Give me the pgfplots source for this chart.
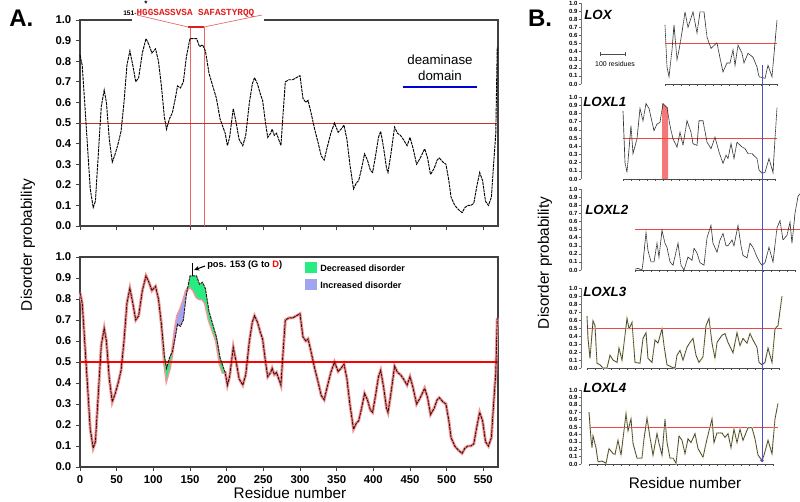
\documentclass[border=0pt]{standalone}
\usepackage{fontspec}
\setmainfont{Liberation Sans}
\newfontfamily\seqfont{Liberation Mono}
\usepackage{pgfplots}
\pgfplotsset{compat=1.18}
\usepackage{pgfplotstable}
\usetikzlibrary{arrows.meta}

\definecolor{seqred}{RGB}{225,30,30}
\definecolor{halfline}{RGB}{190,50,50}
\definecolor{vline}{RGB}{235,100,100}
\definecolor{mutpink}{RGB}{245,150,150}
\definecolor{wtdark}{RGB}{60,15,15}
\definecolor{decgreen}{RGB}{40,235,130}
\definecolor{incblue}{RGB}{160,165,240}
\definecolor{bred}{RGB}{240,70,70}
\definecolor{bblue}{RGB}{80,80,200}
\definecolor{bshade}{RGB}{245,120,120}
\definecolor{olivey}{RGB}{232,228,180}

% disorder profile, panel A (wt = wild type, mut = G153D)
\pgfplotstableread{
res wt mut
0 0.83 0.83
3 0.78 0.78
6 0.62 0.62
10 0.40 0.40
14 0.18 0.18
18 0.09 0.09
21 0.12 0.12
25 0.35 0.35
29 0.58 0.58
33 0.66 0.66
36 0.60 0.60
40 0.42 0.42
44 0.31 0.31
48 0.35 0.35
52 0.40 0.40
56 0.46 0.46
60 0.60 0.60
64 0.78 0.78
68 0.85 0.85
72 0.78 0.78
76 0.70 0.70
80 0.72 0.72
85 0.84 0.84
90 0.91 0.91
94 0.88 0.88
98 0.84 0.84
103 0.86 0.86
107 0.80 0.80
111 0.68 0.68
115 0.53 0.50
118 0.47 0.42
122 0.52 0.47
126 0.55 0.55
130 0.62 0.66
133 0.68 0.72
137 0.67 0.75
141 0.70 0.79
145 0.82 0.84
150 0.91 0.86
155 0.91 0.84
159 0.91 0.81
163 0.87 0.80
167 0.88 0.80
171 0.85 0.78
176 0.74 0.70
181 0.68 0.65
186 0.62 0.60
191 0.52 0.49
195 0.48 0.45
198 0.45 0.45
201 0.39 0.39
204 0.43 0.43
209 0.57 0.57
213 0.50 0.50
217 0.42 0.42
222 0.39 0.39
226 0.44 0.44
231 0.60 0.60
235 0.69 0.69
238 0.72 0.72
242 0.69 0.69
246 0.64 0.64
249 0.61 0.61
253 0.50 0.50
256 0.43 0.43
260 0.45 0.45
262 0.47 0.47
265 0.44 0.44
268 0.45 0.45
271 0.42 0.42
274 0.39 0.39
277 0.55 0.55
280 0.70 0.70
285 0.71 0.71
290 0.71 0.71
295 0.72 0.72
300 0.73 0.73
304 0.62 0.62
308 0.60 0.60
311 0.61 0.61
315 0.55 0.55
320 0.47 0.47
325 0.40 0.40
329 0.34 0.34
333 0.32 0.32
337 0.38 0.38
342 0.45 0.45
347 0.50 0.50
352 0.455 0.455
356 0.47 0.47
360 0.49 0.49
364 0.42 0.42
368 0.30 0.30
373 0.18 0.18
377 0.21 0.21
380 0.22 0.22
384 0.28 0.28
388 0.35 0.35
392 0.32 0.32
396 0.27 0.27
399 0.26 0.26
403 0.34 0.34
407 0.43 0.43
410 0.46 0.46
414 0.38 0.38
418 0.28 0.28
420 0.26 0.26
424 0.35 0.35
429 0.48 0.48
433 0.45 0.45
437 0.44 0.44
441 0.42 0.42
446 0.39 0.39
450 0.43 0.43
454 0.38 0.38
459 0.30 0.30
464 0.33 0.33
470 0.375 0.375
474 0.33 0.33
478 0.25 0.25
483 0.28 0.28
487 0.32 0.32
490 0.33 0.33
495 0.31 0.31
499 0.30 0.30
503 0.22 0.22
506 0.14 0.14
511 0.10 0.10
516 0.08 0.08
521 0.065 0.065
525 0.09 0.09
529 0.10 0.10
533 0.10 0.10
537 0.11 0.11
541 0.19 0.19
545 0.26 0.26
549 0.22 0.22
553 0.12 0.12
557 0.10 0.10
561 0.14 0.14
564 0.30 0.30
567 0.45 0.45
}\profA

\pgfplotsset{
  ticksA/.style={
    scale only axis, width=313.5pt, xmin=0, xmax=570, ymin=0, ymax=1,
    axis line style={black!75, line width=0.8pt},
    tick align=outside, tick pos=left, major tick length=3pt,
    tick style={black!75, line width=0.6pt},
    xtick={0,50,...,550},
    ytick={0,0.1,0.2,0.3,0.4,0.5,0.6,0.7,0.8,0.9,1.0},
    ticklabel style={font=\fontsize{8.5}{10}\selectfont\bfseries},
    /pgf/number format/assume math mode=true,
    yticklabel style={/pgf/number format/fixed, /pgf/number format/fixed zerofill, /pgf/number format/precision=1},
    clip=false,
  },
  wtline/.style={black, line width=0.7pt, dash pattern=on 2.2pt off 0.6pt},
  panelB/.style={
    scale only axis, width=164.25pt, xmin=0, xmax=876, ymin=0, ymax=1,
    axis x line=none, axis y line*=left,
    axis line style={black!55, line width=0.4pt},
    tick align=outside, major tick length=1.5pt, tick style={black!60},
    ytick={0,0.1,0.2,0.3,0.4,0.5,0.6,0.7,0.8,0.9,1.0},
    yticklabel style={font=\fontsize{4.5}{5}\selectfont\bfseries, inner sep=1pt,
      /pgf/number format/fixed, /pgf/number format/fixed zerofill, /pgf/number format/precision=1},
    /pgf/number format/assume math mode=true,
    clip=false,
  },
  bcurve/.style={black!80, line width=0.5pt, dash pattern=on 1.2pt off 0.3pt},
}

\newcommand{\bline}[3]{%
  \addplot[black!70, line width=0.4pt] coordinates {(#1,0)(#3,0)};
  \pgfplotsinvokeforeach{#1,#2,...,#3}{\draw[black!70, line width=0.4pt] (axis cs:##1,0) -- ++(0,-1.6pt);}
}

\begin{document}
\begin{tikzpicture}
\useasboundingbox (0,0) rectangle (600pt,-375.75pt);

% ---------------- Panel A, top ----------------
\begin{axis}[ticksA, at={(60pt,-169.5pt)}, anchor=south west, height=154.5pt, xticklabels={}]
\draw[vline, line width=0.6pt] (axis cs:151,0) -- (axis cs:151,0.966);
\draw[vline, line width=0.6pt] (axis cs:170,0) -- (axis cs:170,0.966);
\addplot[halfline, line width=0.7pt] coordinates {(0,0.5)(570,0.5)};
\addplot[wtline] table[x=res, y=wt] {\profA};
\addplot[wtline] coordinates {(567,0.45)(569,0.87)};
\addplot[blue!85!black, line width=1.1pt] coordinates {(440,0.675)(542,0.675)};
\end{axis}
% gap in the frame for the sequence
\fill[white] (99pt,-13.3pt) rectangle (198pt,-16.7pt);
\draw[vline, line width=0.5pt] (141pt,-20.25pt) -- (102.75pt,-11.25pt);
\draw[vline, line width=0.5pt] (153pt,-20.25pt) -- (196.5pt,-11.25pt);
\draw[seqred, line width=2.2pt] (141pt,-20.25pt) -- (153pt,-20.25pt);
\node[anchor=base west, inner sep=0pt] at (92.25pt,-11.25pt)
  {{\fontsize{5}{6}\selectfont\bfseries 151-}{\seqfont\bfseries\fontsize{7}{8}\selectfont\color{seqred}HGGSASSVSA SAFASTYRQQ}};
\node[inner sep=0pt, font=\fontsize{6}{6}\selectfont\bfseries] at (109.5pt,-2.6pt) {*};
\node[align=center, font=\fontsize{10}{12}\selectfont] at (330pt,-51pt) {deaminase\\domain};

% ---------------- Panel A, bottom ----------------
\begin{axis}[ticksA, at={(60pt,-350.25pt)}, anchor=south west, height=157.5pt]
\addplot[mutpink, line width=2.2pt] table[x=res, y=mut] {\profA};
\addplot[mutpink, line width=2.2pt] coordinates {(567,0.45)(569,0.71)};
\addplot[fill=decgreen, draw=none] coordinates {(147,0.85)(150,0.91)(155,0.91)(159,0.91)(163,0.87)(167,0.88)(171,0.85)(176,0.74)(181,0.68)(186,0.62)(191,0.52)(195,0.48)(198,0.45)(195,0.45)(191,0.49)(186,0.60)(181,0.65)(176,0.70)(171,0.78)(167,0.80)(163,0.80)(159,0.81)(155,0.84)(150,0.86)} --cycle;
\addplot[fill=decgreen, draw=none] coordinates {(111,0.68)(115,0.53)(118,0.47)(122,0.52)(126,0.55)(122,0.47)(118,0.42)(115,0.50)} --cycle;
\addplot[fill=incblue, draw=none] coordinates {(126,0.55)(130,0.62)(133,0.68)(137,0.67)(141,0.70)(145,0.82)(147,0.85)(145,0.84)(141,0.79)(137,0.75)(133,0.72)(130,0.66)} --cycle;
\addplot[red, line width=1.5pt] coordinates {(0,0.5)(570,0.5)};
\addplot[wtdark, line width=0.7pt, dash pattern=on 2.2pt off 0.6pt] table[x=res, y=wt] {\profA};
\addplot[wtdark, line width=0.7pt, dash pattern=on 2.2pt off 0.6pt] coordinates {(567,0.45)(569,0.71)};
\draw[black, line width=0.5pt] (axis cs:153,0.91) -- (axis cs:153,0.97);
\end{axis}
\draw[-{Stealth[length=4pt,width=3.5pt]}, line width=0.8pt] (153.75pt,-199.5pt) -- (145.5pt,-202.5pt);
\node[anchor=west, inner sep=0pt, font=\fontsize{7}{8}\selectfont\bfseries] at (155.25pt,-198.75pt) {pos. 153 (G to \textcolor{red}{D})};
\fill[decgreen] (228.75pt,-196.5pt) rectangle (237.75pt,-204.75pt);
\fill[incblue] (228.75pt,-209.25pt) rectangle (237.75pt,-217.5pt);
\node[anchor=west, inner sep=0pt, font=\fontsize{6.8}{8}\selectfont\bfseries] at (240pt,-201pt) {Decreased disorder};
\node[anchor=west, inner sep=0pt, font=\fontsize{6.8}{8}\selectfont\bfseries] at (240pt,-213.75pt) {Increased disorder};

\node[rotate=90, font=\fontsize{11.5}{13}\selectfont] at (21pt,-183.75pt) {Disorder probability};
\node[font=\fontsize{11.5}{13}\selectfont] at (217.5pt,-369.75pt) {Residue number};
\node[font=\fontsize{18}{20}\selectfont\bfseries] at (16pt,-13.5pt) {A.};
\node[font=\fontsize{18}{20}\selectfont\bfseries] at (405pt,-13.5pt) {B.};

% ---------------- Panel B ----------------
% LOX
\begin{axis}[panelB, at={(435.75pt,-63pt)}, anchor=south west, height=60.75pt]
\bline{336}{368}{784}
\addplot[bred, line width=0.6pt] coordinates {(336,0.5)(784,0.5)};
\addplot[bcurve] coordinates {(336,0.73)(344,0.21)(352,0.09)(364,0.42)(372,0.73)(384,0.30)(392,0.42)(404,0.64)(416,0.89)(428,0.70)(448,0.89)(464,0.63)(476,0.89)(492,0.89)(504,0.58)(520,0.44)(544,0.51)(552,0.38)(568,0.15)(584,0.26)(596,0.26)(608,0.42)(616,0.23)(628,0.48)(644,0.38)(652,0.26)(668,0.38)(688,0.33)(704,0.21)(712,0.09)(724,0.08)(736,0.07)(748,0.23)(764,0.09)(776,0.51)(784,0.79)};
\draw[black!70, line width=0.4pt] (axis cs:76,0.37) -- (axis cs:176,0.37);
\draw[black!70, line width=0.4pt] (axis cs:76,0.34) -- (axis cs:76,0.40);
\draw[black!70, line width=0.4pt] (axis cs:176,0.34) -- (axis cs:176,0.40);
\end{axis}
\node[font=\fontsize{5.2}{6}\selectfont] at (461.25pt,-48pt) {100 residues};

% LOXL1
\begin{axis}[panelB, at={(435.75pt,-134.25pt)}, anchor=south west, height=61.5pt]
\addplot[fill=bshade, draw=none] coordinates {(324,0)(324,0.92)(348,0.87)(348,0)} --cycle;
\bline{168}{200}{776}
\addplot[bred, line width=0.6pt] coordinates {(168,0.5)(784,0.5)};
\addplot[bcurve] coordinates {(168,0.83)(176,0.20)(184,0.08)(200,0.65)(208,0.31)(224,0.49)(236,0.86)(248,0.71)(260,0.92)(272,0.86)(292,0.59)(304,0.67)(316,0.69)(328,0.92)(344,0.87)(356,0.65)(368,0.49)(384,0.39)(396,0.57)(408,0.41)(424,0.71)(440,0.57)(448,0.43)(464,0.41)(472,0.71)(488,0.71)(504,0.45)(520,0.37)(536,0.51)(552,0.33)(568,0.19)(580,0.29)(588,0.25)(600,0.43)(612,0.25)(624,0.45)(644,0.39)(656,0.37)(668,0.31)(684,0.31)(704,0.25)(712,0.11)(724,0.07)(736,0.08)(752,0.25)(768,0.08)(776,0.49)(784,0.87)};
\end{axis}

% LOXL2
\begin{axis}[panelB, at={(435.75pt,-202.5pt)}, anchor=south west, height=60.75pt]
\bline{216}{248}{856}
\addplot[bred, line width=0.6pt] coordinates {(216,0.5)(876,0.5)};
\addplot[bcurve] coordinates {(216,0.01)(228,0.02)(244,0.0)(248,0.09)(260,0.46)(268,0.24)(280,0.10)(292,0.10)(304,0.33)(312,0.16)(324,0.49)(336,0.33)(344,0.28)(356,0.10)(368,0.06)(388,0.33)(400,0.06)(412,0.0)(428,0.16)(444,0.12)(452,0.27)(464,0.21)(476,0.09)(492,0.06)(504,0.40)(520,0.55)(528,0.33)(544,0.22)(556,0.37)(568,0.45)(580,0.30)(588,0.30)(604,0.37)(612,0.30)(628,0.55)(640,0.30)(648,0.18)(664,0.15)(676,0.33)(688,0.28)(704,0.16)(716,0.09)(724,0.06)(736,0.09)(752,0.28)(768,0.10)(784,0.52)(796,0.61)(808,0.37)(824,0.43)(836,0.59)(844,0.33)(856,0.70)(868,0.91)(876,0.94)};
\end{axis}

% LOXL3
\begin{axis}[panelB, at={(435.75pt,-276pt)}, anchor=south west, height=60pt]
\bline{24}{56}{792}
\addplot[bred, line width=0.6pt] coordinates {(24,0.5)(804,0.5)};
\addplot[olivey, line width=1.1pt] coordinates {(24,0.65)(28,0.37)(36,0.12)(48,0.59)(56,0.53)(64,0.06)(76,0.04)(88,0.0)(104,0.0)(116,0.16)(128,0.10)(144,0.07)(152,0.25)(164,0.10)(176,0.41)(184,0.62)(192,0.49)(204,0.57)(216,0.07)(236,0.06)(248,0.37)(260,0.44)(268,0.12)(284,0.07)(296,0.35)(308,0.31)(324,0.49)(332,0.28)(344,0.04)(364,0.01)(376,0.0)(384,0.16)(396,0.22)(408,0.10)(424,0.26)(436,0.32)(448,0.37)(460,0.16)(472,0.07)(488,0.14)(500,0.53)(512,0.62)(524,0.31)(536,0.12)(544,0.32)(564,0.41)(576,0.43)(588,0.32)(608,0.19)(624,0.44)(636,0.28)(648,0.37)(664,0.31)(676,0.43)(688,0.35)(704,0.26)(712,0.07)(724,0.04)(736,0.07)(748,0.25)(764,0.07)(776,0.49)(788,0.53)(804,0.90)};
\addplot[bcurve] coordinates {(24,0.65)(28,0.37)(36,0.12)(48,0.59)(56,0.53)(64,0.06)(76,0.04)(88,0.0)(104,0.0)(116,0.16)(128,0.10)(144,0.07)(152,0.25)(164,0.10)(176,0.41)(184,0.62)(192,0.49)(204,0.57)(216,0.07)(236,0.06)(248,0.37)(260,0.44)(268,0.12)(284,0.07)(296,0.35)(308,0.31)(324,0.49)(332,0.28)(344,0.04)(364,0.01)(376,0.0)(384,0.16)(396,0.22)(408,0.10)(424,0.26)(436,0.32)(448,0.37)(460,0.16)(472,0.07)(488,0.14)(500,0.53)(512,0.62)(524,0.31)(536,0.12)(544,0.32)(564,0.41)(576,0.43)(588,0.32)(608,0.19)(624,0.44)(636,0.28)(648,0.37)(664,0.31)(676,0.43)(688,0.35)(704,0.26)(712,0.07)(724,0.04)(736,0.07)(748,0.25)(764,0.07)(776,0.49)(788,0.53)(804,0.90)};
\end{axis}

% LOXL4
\begin{axis}[panelB, at={(435.75pt,-348pt)}, anchor=south west, height=55.5pt]
\bline{32}{64}{768}
\addplot[bred, line width=0.6pt] coordinates {(32,0.5)(788,0.5)};
\addplot[olivey, line width=1.1pt] coordinates {(32,0.70)(40,0.34)(44,0.22)(48,0.38)(60,0.22)(68,0.03)(84,0.04)(100,0.01)(112,0.21)(128,0.14)(136,0.13)(148,0.32)(160,0.12)(168,0.34)(180,0.68)(188,0.45)(200,0.61)(208,0.28)(224,0.08)(244,0.08)(252,0.34)(264,0.62)(276,0.36)(288,0.12)(304,0.41)(312,0.28)(324,0.12)(336,0.61)(344,0.29)(356,0.08)(368,0.08)(380,0.01)(392,0.38)(404,0.32)(416,0.14)(428,0.34)(440,0.29)(456,0.41)(468,0.21)(488,0.09)(504,0.34)(524,0.61)(532,0.29)(544,0.42)(564,0.42)(576,0.36)(588,0.41)(600,0.22)(612,0.47)(624,0.29)(636,0.47)(648,0.32)(668,0.49)(684,0.49)(696,0.34)(708,0.12)(724,0.05)(732,0.12)(748,0.32)(764,0.14)(776,0.61)(788,0.82)};
\addplot[bcurve] coordinates {(32,0.70)(40,0.34)(44,0.22)(48,0.38)(60,0.22)(68,0.03)(84,0.04)(100,0.01)(112,0.21)(128,0.14)(136,0.13)(148,0.32)(160,0.12)(168,0.34)(180,0.68)(188,0.45)(200,0.61)(208,0.28)(224,0.08)(244,0.08)(252,0.34)(264,0.62)(276,0.36)(288,0.12)(304,0.41)(312,0.28)(324,0.12)(336,0.61)(344,0.29)(356,0.08)(368,0.08)(380,0.01)(392,0.38)(404,0.32)(416,0.14)(428,0.34)(440,0.29)(456,0.41)(468,0.21)(488,0.09)(504,0.34)(524,0.61)(532,0.29)(544,0.42)(564,0.42)(576,0.36)(588,0.41)(600,0.22)(612,0.47)(624,0.29)(636,0.47)(648,0.32)(668,0.49)(684,0.49)(696,0.34)(708,0.12)(724,0.05)(732,0.12)(748,0.32)(764,0.14)(776,0.61)(788,0.82)};
\draw[bblue, line width=0.7pt] (axis cs:724,0.03) -- (axis cs:724,5.39);
\addplot[only marks, mark=*, mark size=1.1pt, bblue] coordinates {(724,0.05)};
\end{axis}

\node[font=\fontsize{10}{12}\selectfont\bfseries\itshape, anchor=west, inner sep=0pt] at (438pt,-11.25pt) {LOX};
\node[font=\fontsize{10}{12}\selectfont\bfseries\itshape, anchor=west, inner sep=0pt] at (437.25pt,-76.5pt) {LOXL1};
\node[font=\fontsize{10}{12}\selectfont\bfseries\itshape, anchor=west, inner sep=0pt] at (438.75pt,-157.5pt) {LOXL2};
\node[font=\fontsize{10}{12}\selectfont\bfseries\itshape, anchor=west, inner sep=0pt] at (437.25pt,-219pt) {LOXL3};
\node[font=\fontsize{10}{12}\selectfont\bfseries\itshape, anchor=west, inner sep=0pt] at (437.25pt,-291pt) {LOXL4};
\node[rotate=90, font=\fontsize{11.5}{13}\selectfont] at (408.75pt,-197.25pt) {Disorder probability};
\node[font=\fontsize{11.5}{13}\selectfont] at (513.75pt,-362.25pt) {Residue number};
\end{tikzpicture}
\end{document}
